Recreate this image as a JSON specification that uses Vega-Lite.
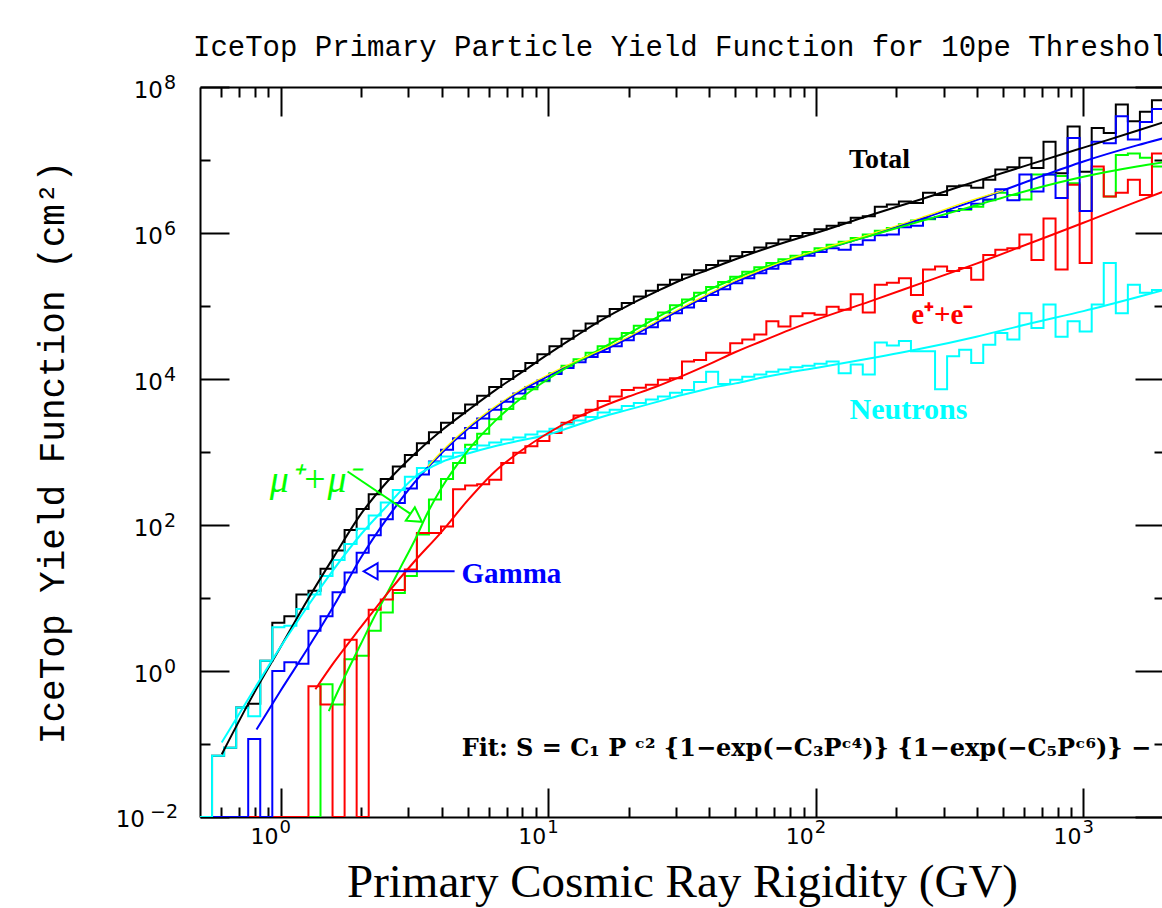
{
  "$schema": "https://vega.github.io/schema/vega-lite/v6.json",
  "width": 964,
  "height": 730,
  "autosize": {"type": "none"},
  "padding": {"left": 200, "top": 87, "right": 0, "bottom": 91},
  "background": "white",
  "title": {
    "text": "IceTop Primary Particle Yield Function for 10pe Threshold",
    "anchor": "start",
    "frame": "group",
    "dx": -7,
    "offset": 12,
    "font": "Liberation Mono",
    "fontSize": 29,
    "fontWeight": "normal",
    "color": "black"
  },
  "config": {
    "view": {"stroke": null},
    "axis": {
      "grid": false,
      "domainColor": "black",
      "domainWidth": 2,
      "tickColor": "black",
      "tickWidth": 2,
      "labels": false,
      "titleColor": "black"
    }
  },
  "datasets": {
    "xlabels": [
      {"v": 1, "e": "0"}, {"v": 10, "e": "1"}, {"v": 100, "e": "2"}, {"v": 1000, "e": "3"}
    ],
    "ylabels": [
      {"v": 0.01, "e": "−2"}, {"v": 1, "e": "0"}, {"v": 100, "e": "2"}, {"v": 10000, "e": "4"}, {"v": 1000000, "e": "6"}, {"v": 100000000, "e": "8"}
    ],
    "hist": [
      {"x": 0.5, "Total": 0.01, "Gamma": 0.01, "Mu": 0.01, "Electrons": 0.01, "Neutrons": 0.01},
      {"x": 0.5546, "Total": 0.069, "Gamma": 0.01, "Mu": 0.01, "Electrons": 0.01, "Neutrons": 0.069},
      {"x": 0.6152, "Total": 0.089, "Gamma": 0.01, "Mu": 0.01, "Electrons": 0.01, "Neutrons": 0.089},
      {"x": 0.6824, "Total": 0.316, "Gamma": 0.01, "Mu": 0.01, "Electrons": 0.01, "Neutrons": 0.316},
      {"x": 0.757, "Total": 0.355, "Gamma": 0.117, "Mu": 0.01, "Electrons": 0.01, "Neutrons": 0.24},
      {"x": 0.8396, "Total": 1.38, "Gamma": 0.01, "Mu": 0.01, "Electrons": 0.01, "Neutrons": 1.38},
      {"x": 0.9314, "Total": 4.57, "Gamma": 1.0, "Mu": 0.01, "Electrons": 0.01, "Neutrons": 3.98},
      {"x": 1.0331, "Total": 5.62, "Gamma": 1.32, "Mu": 0.01, "Electrons": 0.01, "Neutrons": 4.17},
      {"x": 1.146, "Total": 11.2, "Gamma": 1.26, "Mu": 0.01, "Electrons": 0.01, "Neutrons": 7.08},
      {"x": 1.2712, "Total": 12.6, "Gamma": 3.55, "Mu": 0.01, "Electrons": 0.617, "Neutrons": 11.2},
      {"x": 1.41, "Total": 25.1, "Gamma": 5.62, "Mu": 0.661, "Electrons": 0.347, "Neutrons": 20.0},
      {"x": 1.564, "Total": 44.7, "Gamma": 12.0, "Mu": 0.347, "Electrons": 0.01, "Neutrons": 33.1},
      {"x": 1.7349, "Total": 85.1, "Gamma": 22.4, "Mu": 1.45, "Electrons": 2.69, "Neutrons": 55.0},
      {"x": 1.9244, "Total": 166, "Gamma": 41.7, "Mu": 1.62, "Electrons": 0.01, "Neutrons": 89.1},
      {"x": 2.1347, "Total": 263, "Gamma": 72.4, "Mu": 3.55, "Electrons": 6.92, "Neutrons": 135},
      {"x": 2.3678, "Total": 427, "Gamma": 120, "Mu": 6.31, "Electrons": 9.55, "Neutrons": 204},
      {"x": 2.6265, "Total": 631, "Gamma": 200, "Mu": 11.7, "Electrons": 12.9, "Neutrons": 302},
      {"x": 2.9134, "Total": 912, "Gamma": 316, "Mu": 20.0, "Electrons": 24.5, "Neutrons": 457},
      {"x": 3.2317, "Total": 1318, "Gamma": 490, "Mu": 74.1, "Electrons": 77.6, "Neutrons": 603},
      {"x": 3.5847, "Total": 1862, "Gamma": 741, "Mu": 224, "Electrons": 77.6, "Neutrons": 724},
      {"x": 3.9763, "Total": 2512, "Gamma": 1072, "Mu": 427, "Electrons": 95.5, "Neutrons": 871},
      {"x": 4.4107, "Total": 3388, "Gamma": 1549, "Mu": 708, "Electrons": 309, "Neutrons": 977},
      {"x": 4.8926, "Total": 4467, "Gamma": 2138, "Mu": 1259, "Electrons": 347, "Neutrons": 1096},
      {"x": 5.427, "Total": 5888, "Gamma": 2884, "Mu": 1778, "Electrons": 363, "Neutrons": 1230},
      {"x": 6.0199, "Total": 7762, "Gamma": 3802, "Mu": 2818, "Electrons": 417, "Neutrons": 1349},
      {"x": 6.6775, "Total": 10000, "Gamma": 4898, "Mu": 3890, "Electrons": 708, "Neutrons": 1479},
      {"x": 7.4069, "Total": 12880, "Gamma": 6310, "Mu": 5370, "Electrons": 977, "Neutrons": 1585},
      {"x": 8.2161, "Total": 16600, "Gamma": 7762, "Mu": 7244, "Electrons": 1202, "Neutrons": 1738},
      {"x": 9.1136, "Total": 21880, "Gamma": 9550, "Mu": 9333, "Electrons": 1413, "Neutrons": 1905},
      {"x": 10.109, "Total": 28180, "Gamma": 11750, "Mu": 12020, "Electrons": 1820, "Neutrons": 2089},
      {"x": 11.214, "Total": 35480, "Gamma": 14130, "Mu": 15140, "Electrons": 2512, "Neutrons": 2399},
      {"x": 12.438, "Total": 45710, "Gamma": 16980, "Mu": 18620, "Electrons": 3162, "Neutrons": 2692},
      {"x": 13.797, "Total": 57540, "Gamma": 19950, "Mu": 22910, "Electrons": 3802, "Neutrons": 3020},
      {"x": 15.304, "Total": 72440, "Gamma": 23440, "Mu": 28180, "Electrons": 5012, "Neutrons": 3467},
      {"x": 16.976, "Total": 91200, "Gamma": 28180, "Mu": 35480, "Electrons": 5754, "Neutrons": 3802},
      {"x": 18.831, "Total": 109600, "Gamma": 33880, "Mu": 42660, "Electrons": 7079, "Neutrons": 4266},
      {"x": 20.888, "Total": 134900, "Gamma": 41690, "Mu": 53700, "Electrons": 7586, "Neutrons": 4677},
      {"x": 23.17, "Total": 162200, "Gamma": 51290, "Mu": 66070, "Electrons": 8318, "Neutrons": 5248},
      {"x": 25.701, "Total": 195000, "Gamma": 63100, "Mu": 81280, "Electrons": 9772, "Neutrons": 5754},
      {"x": 28.508, "Total": 229100, "Gamma": 79430, "Mu": 102300, "Electrons": 10230, "Neutrons": 6457},
      {"x": 31.623, "Total": 269200, "Gamma": 95500, "Mu": 123000, "Electrons": 17380, "Neutrons": 7079},
      {"x": 35.077, "Total": 309000, "Gamma": 117500, "Mu": 151400, "Electrons": 18200, "Neutrons": 9120},
      {"x": 38.909, "Total": 363100, "Gamma": 141300, "Mu": 182000, "Electrons": 22910, "Neutrons": 12590},
      {"x": 43.16, "Total": 416900, "Gamma": 169800, "Mu": 213800, "Electrons": 22910, "Neutrons": 8511},
      {"x": 47.874, "Total": 478600, "Gamma": 204200, "Mu": 251200, "Electrons": 30900, "Neutrons": 9772},
      {"x": 53.104, "Total": 549500, "Gamma": 239900, "Mu": 295100, "Electrons": 34670, "Neutrons": 10720},
      {"x": 58.905, "Total": 631000, "Gamma": 281800, "Mu": 338800, "Electrons": 40740, "Neutrons": 11480},
      {"x": 65.34, "Total": 724400, "Gamma": 323600, "Mu": 389000, "Electrons": 61660, "Neutrons": 12590},
      {"x": 72.478, "Total": 812800, "Gamma": 380200, "Mu": 436500, "Electrons": 52480, "Neutrons": 13490},
      {"x": 80.395, "Total": 912000, "Gamma": 436500, "Mu": 489800, "Electrons": 72440, "Neutrons": 14450},
      {"x": 89.178, "Total": 1000000, "Gamma": 489800, "Mu": 549500, "Electrons": 79430, "Neutrons": 15140},
      {"x": 98.919, "Total": 1122000, "Gamma": 549500, "Mu": 616600, "Electrons": 75860, "Neutrons": 16220},
      {"x": 109.73, "Total": 1259000, "Gamma": 616600, "Mu": 691800, "Electrons": 97720, "Neutrons": 17380},
      {"x": 121.71, "Total": 1380000, "Gamma": 588800, "Mu": 758600, "Electrons": 89130, "Neutrons": 12020},
      {"x": 135.01, "Total": 1622000, "Gamma": 691800, "Mu": 851100, "Electrons": 144500, "Neutrons": 15850},
      {"x": 149.76, "Total": 1698000, "Gamma": 794300, "Mu": 955000, "Electrons": 81280, "Neutrons": 11480},
      {"x": 166.12, "Total": 2291000, "Gamma": 933300, "Mu": 1072000, "Electrons": 195000, "Neutrons": 31620},
      {"x": 184.26, "Total": 2455000, "Gamma": 955000, "Mu": 1175000, "Electrons": 208900, "Neutrons": 28840},
      {"x": 204.39, "Total": 2692000, "Gamma": 1202000, "Mu": 1318000, "Electrons": 239900, "Neutrons": 33110},
      {"x": 226.72, "Total": 2570000, "Gamma": 1259000, "Mu": 1479000, "Electrons": 141300, "Neutrons": 23990},
      {"x": 251.49, "Total": 3548000, "Gamma": 1585000, "Mu": 1549000, "Electrons": 316200, "Neutrons": 23990},
      {"x": 278.96, "Total": 3311000, "Gamma": 1660000, "Mu": 1660000, "Electrons": 346700, "Neutrons": 7244},
      {"x": 309.43, "Total": 4365000, "Gamma": 1995000, "Mu": 1995000, "Electrons": 302000, "Neutrons": 20420},
      {"x": 343.24, "Total": 4467000, "Gamma": 2138000, "Mu": 2089000, "Electrons": 331100, "Neutrons": 25120},
      {"x": 380.73, "Total": 4169000, "Gamma": 2512000, "Mu": 2291000, "Electrons": 229100, "Neutrons": 16600},
      {"x": 422.32, "Total": 5370000, "Gamma": 2884000, "Mu": 2818000, "Electrons": 501200, "Neutrons": 29510},
      {"x": 468.46, "Total": 7413000, "Gamma": 3981000, "Mu": 3548000, "Electrons": 588800, "Neutrons": 42660},
      {"x": 519.63, "Total": 7943000, "Gamma": 2818000, "Mu": 3311000, "Electrons": 616600, "Neutrons": 34670},
      {"x": 576.39, "Total": 10720000, "Gamma": 6310000, "Mu": 2884000, "Electrons": 955000, "Neutrons": 79430},
      {"x": 639.36, "Total": 7762000, "Gamma": 3715000, "Mu": 6310000, "Electrons": 426600, "Neutrons": 50120},
      {"x": 709.2, "Total": 17780000, "Gamma": 6310000, "Mu": 6310000, "Electrons": 1585000, "Neutrons": 104700},
      {"x": 786.67, "Total": 6607000, "Gamma": 3020000, "Mu": 6026000, "Electrons": 316200, "Neutrons": 38020},
      {"x": 872.61, "Total": 28840000, "Gamma": 19950000, "Mu": 4786000, "Electrons": 4571000, "Neutrons": 61660},
      {"x": 967.94, "Total": 6918000, "Gamma": 1995000, "Mu": 1995000, "Electrons": 389000, "Neutrons": 44670},
      {"x": 1073.7, "Total": 27540000, "Gamma": 17780000, "Mu": 7413000, "Electrons": 8128000, "Neutrons": 104700},
      {"x": 1191.0, "Total": 23440000, "Gamma": 16980000, "Mu": 3162000, "Electrons": 3162000, "Neutrons": 389000},
      {"x": 1321.1, "Total": 57540000, "Gamma": 39810000, "Mu": 11750000, "Electrons": 3548000, "Neutrons": 79430},
      {"x": 1465.4, "Total": 33880000, "Gamma": 19050000, "Mu": 12300000, "Electrons": 5370000, "Neutrons": 195000},
      {"x": 1625.5, "Total": 45710000, "Gamma": 33110000, "Mu": 10720000, "Electrons": 3311000, "Neutrons": 151400},
      {"x": 1803.0, "Total": 66070000, "Gamma": 50120000, "Mu": 8128000, "Electrons": 12300000, "Neutrons": 166000},
      {"x": 2000, "Total": 66070000, "Gamma": 50120000, "Mu": 8128000, "Electrons": 12300000, "Neutrons": 166000}
    ],
    "fit": [
      {"series": "Total", "x": 0.603, "y": 0.0724}, {"series": "Total", "x": 0.794, "y": 0.49}, {"series": "Total", "x": 1, "y": 2.14},
      {"series": "Total", "x": 1.259, "y": 9.33}, {"series": "Total", "x": 1.585, "y": 37.2}, {"series": "Total", "x": 1.995, "y": 141},
      {"series": "Total", "x": 2.512, "y": 398}, {"series": "Total", "x": 3.162, "y": 933}, {"series": "Total", "x": 3.981, "y": 1950},
      {"series": "Total", "x": 5.012, "y": 3715}, {"series": "Total", "x": 6.31, "y": 6918}, {"series": "Total", "x": 7.943, "y": 12300},
      {"series": "Total", "x": 10, "y": 21880}, {"series": "Total", "x": 12.59, "y": 38020}, {"series": "Total", "x": 15.85, "y": 64570},
      {"series": "Total", "x": 19.95, "y": 102300}, {"series": "Total", "x": 25.12, "y": 154900}, {"series": "Total", "x": 31.62, "y": 229100},
      {"series": "Total", "x": 39.81, "y": 316200}, {"series": "Total", "x": 50.12, "y": 436500}, {"series": "Total", "x": 63.1, "y": 588800},
      {"series": "Total", "x": 79.43, "y": 776200}, {"series": "Total", "x": 100, "y": 1000000}, {"series": "Total", "x": 158.5, "y": 1738000},
      {"series": "Total", "x": 251.2, "y": 2951000}, {"series": "Total", "x": 398.1, "y": 5129000}, {"series": "Total", "x": 631, "y": 8710000},
      {"series": "Total", "x": 1000, "y": 14790000}, {"series": "Total", "x": 1585, "y": 25120000}, {"series": "Total", "x": 2000, "y": 33110000},

      {"series": "Gamma", "x": 0.813, "y": 0.158}, {"series": "Gamma", "x": 1, "y": 0.537}, {"series": "Gamma", "x": 1.259, "y": 2.0},
      {"series": "Gamma", "x": 1.585, "y": 7.94}, {"series": "Gamma", "x": 1.995, "y": 35.5}, {"series": "Gamma", "x": 2.512, "y": 126},
      {"series": "Gamma", "x": 3.162, "y": 380}, {"series": "Gamma", "x": 3.981, "y": 955}, {"series": "Gamma", "x": 5.012, "y": 2089},
      {"series": "Gamma", "x": 6.31, "y": 3981}, {"series": "Gamma", "x": 7.943, "y": 6918}, {"series": "Gamma", "x": 10, "y": 10960},
      {"series": "Gamma", "x": 12.59, "y": 16600}, {"series": "Gamma", "x": 15.85, "y": 23990}, {"series": "Gamma", "x": 19.95, "y": 36310},
      {"series": "Gamma", "x": 25.12, "y": 57540}, {"series": "Gamma", "x": 31.62, "y": 91200}, {"series": "Gamma", "x": 39.81, "y": 141300},
      {"series": "Gamma", "x": 50.12, "y": 213800}, {"series": "Gamma", "x": 63.1, "y": 302000}, {"series": "Gamma", "x": 79.43, "y": 416900},
      {"series": "Gamma", "x": 100, "y": 549500}, {"series": "Gamma", "x": 158.5, "y": 912000}, {"series": "Gamma", "x": 251.2, "y": 1585000},
      {"series": "Gamma", "x": 398.1, "y": 2818000}, {"series": "Gamma", "x": 631, "y": 5248000}, {"series": "Gamma", "x": 1000, "y": 9550000},
      {"series": "Gamma", "x": 1585, "y": 15850000}, {"series": "Gamma", "x": 2000, "y": 19950000},

      {"series": "Neutrons", "x": 0.603, "y": 0.105}, {"series": "Neutrons", "x": 0.794, "y": 0.55}, {"series": "Neutrons", "x": 1, "y": 2.14},
      {"series": "Neutrons", "x": 1.259, "y": 7.59}, {"series": "Neutrons", "x": 1.585, "y": 25.1}, {"series": "Neutrons", "x": 1.995, "y": 74.1},
      {"series": "Neutrons", "x": 2.512, "y": 186}, {"series": "Neutrons", "x": 3.162, "y": 447}, {"series": "Neutrons", "x": 3.981, "y": 724},
      {"series": "Neutrons", "x": 5.012, "y": 955}, {"series": "Neutrons", "x": 6.31, "y": 1202}, {"series": "Neutrons", "x": 7.943, "y": 1445},
      {"series": "Neutrons", "x": 10, "y": 1738}, {"series": "Neutrons", "x": 12.59, "y": 2291}, {"series": "Neutrons", "x": 15.85, "y": 3020},
      {"series": "Neutrons", "x": 19.95, "y": 3802}, {"series": "Neutrons", "x": 25.12, "y": 4786}, {"series": "Neutrons", "x": 31.62, "y": 6026},
      {"series": "Neutrons", "x": 39.81, "y": 7413}, {"series": "Neutrons", "x": 50.12, "y": 8710}, {"series": "Neutrons", "x": 63.1, "y": 10470},
      {"series": "Neutrons", "x": 79.43, "y": 12300}, {"series": "Neutrons", "x": 100, "y": 14130}, {"series": "Neutrons", "x": 158.5, "y": 19050},
      {"series": "Neutrons", "x": 251.2, "y": 26300}, {"series": "Neutrons", "x": 398.1, "y": 38020}, {"series": "Neutrons", "x": 631, "y": 57540},
      {"series": "Neutrons", "x": 1000, "y": 85110}, {"series": "Neutrons", "x": 1585, "y": 131800}, {"series": "Neutrons", "x": 2000, "y": 166000},

      {"series": "Mu", "x": 1.514, "y": 0.282}, {"series": "Mu", "x": 1.778, "y": 1.0}, {"series": "Mu", "x": 1.995, "y": 2.34},
      {"series": "Mu", "x": 2.239, "y": 5.5}, {"series": "Mu", "x": 2.512, "y": 12.0}, {"series": "Mu", "x": 2.818, "y": 26.9},
      {"series": "Mu", "x": 3.162, "y": 60.3}, {"series": "Mu", "x": 3.548, "y": 148}, {"series": "Mu", "x": 3.981, "y": 316},
      {"series": "Mu", "x": 5.012, "y": 1047}, {"series": "Mu", "x": 6.31, "y": 2630}, {"series": "Mu", "x": 7.943, "y": 5495},
      {"series": "Mu", "x": 10, "y": 10000}, {"series": "Mu", "x": 12.59, "y": 16600}, {"series": "Mu", "x": 15.85, "y": 26300},
      {"series": "Mu", "x": 19.95, "y": 41690}, {"series": "Mu", "x": 25.12, "y": 67610}, {"series": "Mu", "x": 31.62, "y": 107200},
      {"series": "Mu", "x": 39.81, "y": 166000}, {"series": "Mu", "x": 50.12, "y": 239900}, {"series": "Mu", "x": 63.1, "y": 331100},
      {"series": "Mu", "x": 79.43, "y": 436500}, {"series": "Mu", "x": 100, "y": 562300}, {"series": "Mu", "x": 158.5, "y": 912000},
      {"series": "Mu", "x": 251.2, "y": 1479000}, {"series": "Mu", "x": 398.1, "y": 2399000}, {"series": "Mu", "x": 631, "y": 3890000},
      {"series": "Mu", "x": 1000, "y": 5888000}, {"series": "Mu", "x": 1585, "y": 8128000}, {"series": "Mu", "x": 2000, "y": 9333000},

      {"series": "Electrons", "x": 1.349, "y": 0.562}, {"series": "Electrons", "x": 1.585, "y": 1.32}, {"series": "Electrons", "x": 1.995, "y": 3.98},
      {"series": "Electrons", "x": 2.512, "y": 11.7}, {"series": "Electrons", "x": 3.162, "y": 31.6}, {"series": "Electrons", "x": 3.981, "y": 79.4},
      {"series": "Electrons", "x": 5.012, "y": 219}, {"series": "Electrons", "x": 6.31, "y": 537}, {"series": "Electrons", "x": 7.943, "y": 1047},
      {"series": "Electrons", "x": 10, "y": 1820}, {"series": "Electrons", "x": 12.59, "y": 2884}, {"series": "Electrons", "x": 15.85, "y": 4169},
      {"series": "Electrons", "x": 19.95, "y": 5754}, {"series": "Electrons", "x": 25.12, "y": 7762}, {"series": "Electrons", "x": 31.62, "y": 10960},
      {"series": "Electrons", "x": 39.81, "y": 15850}, {"series": "Electrons", "x": 50.12, "y": 23440}, {"series": "Electrons", "x": 63.1, "y": 33110},
      {"series": "Electrons", "x": 79.43, "y": 46770}, {"series": "Electrons", "x": 100, "y": 64570}, {"series": "Electrons", "x": 158.5, "y": 114800},
      {"series": "Electrons", "x": 251.2, "y": 208900}, {"series": "Electrons", "x": 398.1, "y": 380200}, {"series": "Electrons", "x": 631, "y": 724400},
      {"series": "Electrons", "x": 1000, "y": 1380000}, {"series": "Electrons", "x": 1585, "y": 2692000}, {"series": "Electrons", "x": 2000, "y": 3715000},

      {"series": "Sum", "x": 3.548, "y": 631}, {"series": "Sum", "x": 3.981, "y": 1000}, {"series": "Sum", "x": 5.012, "y": 2188},
      {"series": "Sum", "x": 6.31, "y": 4169}, {"series": "Sum", "x": 7.943, "y": 7244}, {"series": "Sum", "x": 10, "y": 11480},
      {"series": "Sum", "x": 12.59, "y": 17380}, {"series": "Sum", "x": 15.85, "y": 25120}, {"series": "Sum", "x": 19.95, "y": 38020},
      {"series": "Sum", "x": 25.12, "y": 60260}, {"series": "Sum", "x": 31.62, "y": 95500}, {"series": "Sum", "x": 39.81, "y": 147900},
      {"series": "Sum", "x": 50.12, "y": 223900}, {"series": "Sum", "x": 63.1, "y": 316200}, {"series": "Sum", "x": 79.43, "y": 436500},
      {"series": "Sum", "x": 100, "y": 575400}, {"series": "Sum", "x": 158.5, "y": 955000}, {"series": "Sum", "x": 251.2, "y": 1660000},
      {"series": "Sum", "x": 398.1, "y": 2951000}, {"series": "Sum", "x": 501, "y": 3800000}
    ]
  },
  "layer": [
    {
      "data": {"name": "hist"},
      "transform": [{"fold": ["Total", "Mu", "Electrons", "Gamma", "Neutrons"], "as": ["series", "y"]}],
      "mark": {"type": "line", "interpolate": "step-after", "strokeWidth": 2, "clip": true},
      "encoding": {
        "x": {
          "field": "x", "type": "quantitative",
          "scale": {"type": "log", "domain": [0.5, 2000], "nice": false},
          "axis": {
            "orient": "bottom",
            "values": [0.6, 0.7, 0.8, 0.9, 1, 2, 3, 4, 5, 6, 7, 8, 9, 10, 20, 30, 40, 50, 60, 70, 80, 90, 100, 200, 300, 400, 500, 600, 700, 800, 900, 1000],
            "tickSize": {"condition": {"test": "indexof([1, 10, 100, 1000], datum.value) >= 0", "value": -29}, "value": -10},
            "title": "Primary Cosmic Ray Rigidity (GV)",
            "titleFont": "Liberation Serif",
            "titleFontSize": 47,
            "titleFontWeight": "normal",
            "titleX": 482,
            "titleY": 79,
            "titleBaseline": "alphabetic",
            "titleAlign": "center"
          }
        },
        "y": {
          "field": "y", "type": "quantitative",
          "scale": {"type": "log", "domain": [0.01, 100000000], "nice": false},
          "axis": {
            "orient": "left",
            "values": [0.01, 0.1, 1, 10, 100, 1000, 10000, 100000, 1000000, 10000000, 100000000],
            "tickSize": {"condition": {"test": "indexof([0.01, 1, 100, 10000, 1000000, 100000000], datum.value) >= 0", "value": -29}, "value": -10},
            "title": "IceTop Yield Function (cm²)",
            "titleFont": "Liberation Mono",
            "titleFontSize": 36,
            "titleFontWeight": "normal",
            "titleX": -148,
            "titleY": 365,
            "titleAngle": 270,
            "titleAlign": "center",
            "titleBaseline": "middle"
          }
        },
        "color": {
          "field": "series", "type": "nominal",
          "scale": {"domain": ["Total", "Gamma", "Mu", "Electrons", "Neutrons", "Sum"], "range": ["#000000", "#0000ff", "#00ff00", "#ff0000", "#00ffff", "#ffff00"]},
          "legend": null
        }
      }
    },
    {
      "data": {"name": "fit"},
      "transform": [{"filter": "datum.series != 'Sum'"}],
      "mark": {"type": "line", "interpolate": "monotone", "strokeWidth": 2, "clip": true},
      "encoding": {
        "x": {
          "field": "x", "type": "quantitative",
          "axis": {
            "orient": "top",
            "values": [0.6, 0.7, 0.8, 0.9, 1, 2, 3, 4, 5, 6, 7, 8, 9, 10, 20, 30, 40, 50, 60, 70, 80, 90, 100, 200, 300, 400, 500, 600, 700, 800, 900, 1000],
            "title": null,
            "tickSize": {"condition": {"test": "indexof([1, 10, 100, 1000], datum.value) >= 0", "value": -29}, "value": -10}
          }
        },
        "y": {
          "field": "y", "type": "quantitative",
          "axis": {
            "orient": "right",
            "values": [0.01, 0.1, 1, 10, 100, 1000, 10000, 100000, 1000000, 10000000, 100000000],
            "title": null,
            "tickSize": {"condition": {"test": "indexof([0.01, 1, 100, 10000, 1000000, 100000000], datum.value) >= 0", "value": -29}, "value": -10}
          }
        },
        "color": {"field": "series", "type": "nominal", "legend": null}
      }
    },
    {
      "data": {"name": "fit"},
      "transform": [{"filter": "datum.series == 'Sum'"}],
      "mark": {"type": "line", "interpolate": "monotone", "strokeWidth": 1.2, "clip": true, "color": "#ffff00"},
      "encoding": {
        "x": {"field": "x", "type": "quantitative", "axis": null},
        "y": {"field": "y", "type": "quantitative", "axis": null}
      }
    },
    {
      "data": {"name": "xlabels"},
      "mark": {"type": "text", "text": "10", "font": "DejaVu Sans", "fontSize": 22, "color": "black", "align": "right", "baseline": "alphabetic", "dx": -2, "dy": 27},
      "encoding": {
        "x": {"field": "v", "type": "quantitative", "axis": null},
        "y": {"datum": 0.01, "type": "quantitative", "axis": null}
      }
    },
    {
      "data": {"name": "xlabels"},
      "mark": {"type": "text", "font": "DejaVu Sans", "fontSize": 18, "color": "black", "align": "left", "baseline": "alphabetic", "dx": -1, "dy": 16},
      "encoding": {
        "x": {"field": "v", "type": "quantitative", "axis": null},
        "y": {"datum": 0.01, "type": "quantitative", "axis": null},
        "text": {"field": "e"}
      }
    },
    {
      "data": {"name": "ylabels"},
      "transform": [{"filter": "datum.v >= 1"}],
      "mark": {"type": "text", "text": "10", "font": "DejaVu Sans", "fontSize": 23, "color": "black", "align": "right", "baseline": "alphabetic", "dx": -37, "dy": 11},
      "encoding": {
        "x": {"datum": 0.5, "type": "quantitative", "axis": null},
        "y": {"field": "v", "type": "quantitative", "axis": null}
      }
    },
    {
      "data": {"name": "ylabels"},
      "transform": [{"filter": "datum.v >= 1"}],
      "mark": {"type": "text", "font": "DejaVu Sans", "fontSize": 19, "color": "black", "align": "left", "baseline": "alphabetic", "dx": -36, "dy": 2},
      "encoding": {
        "x": {"datum": 0.5, "type": "quantitative", "axis": null},
        "y": {"field": "v", "type": "quantitative", "axis": null},
        "text": {"field": "e"}
      }
    },
    {
      "data": {"name": "ylabels"},
      "transform": [{"filter": "datum.v < 1"}],
      "mark": {"type": "text", "text": "10", "font": "DejaVu Sans", "fontSize": 23, "color": "black", "align": "right", "baseline": "alphabetic", "dx": -55, "dy": 10},
      "encoding": {
        "x": {"datum": 0.5, "type": "quantitative", "axis": null},
        "y": {"field": "v", "type": "quantitative", "axis": null}
      }
    },
    {
      "data": {"name": "ylabels"},
      "transform": [{"filter": "datum.v < 1"}],
      "mark": {"type": "text", "font": "DejaVu Sans", "fontSize": 19, "color": "black", "align": "right", "baseline": "alphabetic", "dx": -22, "dy": 1},
      "encoding": {
        "x": {"datum": 0.5, "type": "quantitative", "axis": null},
        "y": {"field": "v", "type": "quantitative", "axis": null},
        "text": {"field": "e"}
      }
    },
    {
      "data": {"values": [{"x": 1.78, "y": 541}, {"x": 3.2, "y": 127}]},
      "mark": {"type": "line", "color": "#00ff00", "strokeWidth": 2},
      "encoding": {
        "x": {"field": "x", "type": "quantitative", "axis": null},
        "y": {"field": "y", "type": "quantitative", "axis": null}
      }
    },
    {
      "data": {"values": [{"x": 4.47, "y": 23.2}, {"x": 2.32, "y": 23.2}]},
      "mark": {"type": "line", "color": "#0000ff", "strokeWidth": 2},
      "encoding": {
        "x": {"field": "x", "type": "quantitative", "axis": null},
        "y": {"field": "y", "type": "quantitative", "axis": null}
      }
    },
    {
      "data": {"values": [{}]},
      "mark": {"type": "point", "shape": "triangle-right", "angle": 34, "size": 260, "filled": true, "fill": "white", "stroke": "#00ff00", "strokeWidth": 2, "opacity": 1},
      "encoding": {
        "x": {"datum": 3.21, "type": "quantitative", "axis": null},
        "y": {"datum": 125, "type": "quantitative", "axis": null}
      }
    },
    {
      "data": {"values": [{}]},
      "mark": {"type": "point", "shape": "triangle-left", "size": 260, "filled": true, "fill": "white", "stroke": "#0000ff", "strokeWidth": 2, "opacity": 1},
      "encoding": {
        "x": {"datum": 2.17, "type": "quantitative", "axis": null},
        "y": {"datum": 23.2, "type": "quantitative", "axis": null}
      }
    },
    {
      "data": {"values": [{}]},
      "mark": {"type": "text", "text": "Total", "font": "Liberation Serif", "fontWeight": "bold", "fontSize": 28, "color": "black", "align": "center", "baseline": "middle"},
      "encoding": {"x": {"datum": 173, "type": "quantitative", "axis": null}, "y": {"datum": 10000000, "type": "quantitative", "axis": null}}
    },
    {
      "data": {"values": [{}]},
      "mark": {"type": "text", "text": "e⁺+e⁻", "font": "Liberation Serif", "fontWeight": "bold", "fontSize": 29, "color": "#ff0000", "align": "center", "baseline": "middle"},
      "encoding": {"x": {"datum": 297, "type": "quantitative", "axis": null}, "y": {"datum": 76000, "type": "quantitative", "axis": null}}
    },
    {
      "data": {"values": [{}]},
      "mark": {"type": "text", "text": "Neutrons", "font": "Liberation Serif", "fontWeight": "bold", "fontSize": 30, "color": "#00ffff", "align": "center", "baseline": "middle"},
      "encoding": {"x": {"datum": 222, "type": "quantitative", "axis": null}, "y": {"datum": 3790, "type": "quantitative", "axis": null}}
    },
    {
      "data": {"values": [{}]},
      "mark": {"type": "text", "text": "Gamma", "font": "Liberation Serif", "fontWeight": "bold", "fontSize": 29, "color": "#0000ff", "align": "left", "baseline": "middle"},
      "encoding": {"x": {"datum": 4.74, "type": "quantitative", "axis": null}, "y": {"datum": 21, "type": "quantitative", "axis": null}}
    },
    {
      "data": {"values": [{}]},
      "mark": {"type": "text", "text": "μ⁺+μ⁻", "font": "Liberation Serif", "fontStyle": "italic", "fontSize": 38, "color": "#00ff00", "align": "center", "baseline": "middle"},
      "encoding": {"x": {"datum": 1.34, "type": "quantitative", "axis": null}, "y": {"datum": 395, "type": "quantitative", "axis": null}}
    },
    {
      "data": {"values": [{}]},
      "mark": {"type": "text", "text": "Fit: S = C₁ P ᶜ² {1−exp(−C₃Pᶜ⁴)} {1−exp(−C₅Pᶜ⁶)} −", "font": "DejaVu Serif", "fontWeight": "bold", "fontSize": 24, "color": "black", "align": "left", "baseline": "alphabetic"},
      "encoding": {"x": {"datum": 4.75, "type": "quantitative", "axis": null}, "y": {"datum": 0.068, "type": "quantitative", "axis": null}}
    }
  ],
  "resolve": {"axis": {"x": "independent", "y": "independent"}}
}
